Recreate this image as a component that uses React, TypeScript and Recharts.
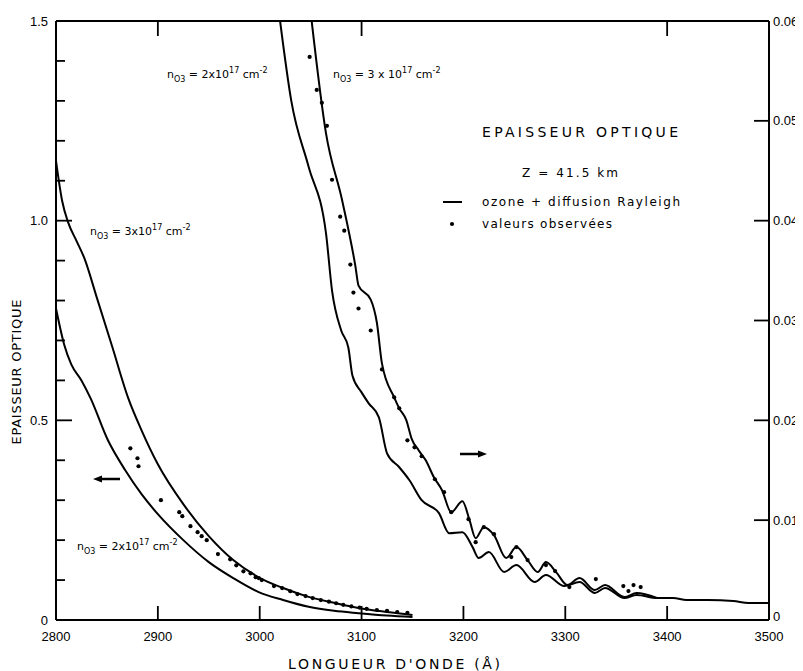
import React from 'react'
import { ComposedChart, Line, Scatter, XAxis, YAxis } from 'recharts'

// left scale: optical depth vs wavelength (Å)
const leftHighWl = [2800, 2806, 2812, 2820, 2828, 2840, 2855, 2871, 2884, 2900, 2925, 2950, 2974, 2999, 3023, 3048, 3073, 3097, 3125, 3150]
const leftHighTau = [1.15, 1.05, 0.995, 0.95, 0.905, 0.808, 0.686, 0.555, 0.475, 0.39, 0.29, 0.21, 0.15, 0.107, 0.08, 0.058, 0.043, 0.03, 0.02, 0.0125]
const leftLowWl = [2800, 2808, 2815, 2825, 2834, 2851, 2868, 2884, 2900, 2925, 2950, 2974, 2999, 3023, 3048, 3073, 3097, 3125, 3150]
const leftLowTau = [0.78, 0.69, 0.64, 0.6, 0.555, 0.45, 0.375, 0.315, 0.265, 0.2, 0.145, 0.105, 0.07, 0.05, 0.033, 0.023, 0.017, 0.011, 0.0075]
const leftObsWl = [2873, 2880, 2881, 2903, 2921, 2924, 2932, 2939, 2943, 2948, 2959, 2971, 2977, 2984, 2991, 2996, 2999, 3002, 3014, 3022, 3030, 3037, 3045, 3052, 3060, 3068, 3075, 3082, 3090, 3098, 3105, 3115, 3125, 3135, 3145]
const leftObsTau = [0.43, 0.405, 0.385, 0.3, 0.27, 0.26, 0.235, 0.22, 0.21, 0.2, 0.165, 0.152, 0.137, 0.122, 0.117, 0.107, 0.105, 0.1, 0.085, 0.08, 0.072, 0.065, 0.06, 0.055, 0.05, 0.046, 0.042, 0.038, 0.034, 0.031, 0.028, 0.025, 0.023, 0.02, 0.018]

// right scale
const rightLowWl = [3020, 3031, 3048, 3065, 3071, 3080, 3087, 3091, 3100, 3107, 3117, 3125, 3137, 3147, 3159, 3176, 3186, 3199, 3209, 3215, 3225, 3240, 3252, 3270, 3281, 3299, 3314, 3329, 3339, 3358, 3370, 3390, 3406, 3419, 3440, 3465, 3480, 3500]
const rightLowTau = [0.06, 0.052, 0.0454, 0.0388, 0.033, 0.029, 0.0273, 0.0245, 0.0228, 0.0217, 0.0203, 0.0167, 0.0153, 0.014, 0.012, 0.0107, 0.0087, 0.0088, 0.0073, 0.0062, 0.0068, 0.0048, 0.0055, 0.0038, 0.0045, 0.0034, 0.0038, 0.0027, 0.0032, 0.0022, 0.0025, 0.0022, 0.0022, 0.002, 0.002, 0.0019, 0.0017, 0.0017]
const rightHighWl = [3051, 3065, 3081, 3094, 3097, 3109, 3115, 3120, 3132, 3137, 3144, 3149, 3156, 3163, 3171, 3179, 3188, 3199, 3206, 3212, 3220, 3230, 3242, 3252, 3263, 3273, 3281, 3291, 3302, 3314, 3329, 3339, 3358, 3370, 3390]
const rightHighTau = [0.06, 0.0488, 0.042, 0.0354, 0.0335, 0.0321, 0.0298, 0.0257, 0.0223, 0.0212, 0.02, 0.0182, 0.017, 0.016, 0.0143, 0.013, 0.0108, 0.0119, 0.01, 0.0082, 0.0093, 0.0085, 0.0062, 0.0073, 0.006, 0.0048, 0.0058, 0.0048, 0.0035, 0.0042, 0.003, 0.0035, 0.0023, 0.0027, 0.0022]
const rightObsWl = [3049, 3056, 3061, 3066, 3071, 3079, 3083, 3089, 3092, 3097, 3109, 3120, 3132, 3137, 3145, 3152, 3159, 3172, 3181, 3188, 3205, 3212, 3220, 3230, 3247, 3252, 3263, 3281, 3290, 3304, 3330, 3357, 3362, 3367, 3374]
const rightObsTau = [0.0564, 0.0531, 0.0518, 0.0495, 0.0441, 0.0404, 0.039, 0.0356, 0.0328, 0.0312, 0.029, 0.0251, 0.0223, 0.0212, 0.018, 0.0173, 0.0164, 0.0141, 0.0128, 0.0108, 0.0101, 0.0078, 0.0093, 0.0086, 0.0063, 0.0073, 0.006, 0.0055, 0.0049, 0.0033, 0.0041, 0.0034, 0.0029, 0.0035, 0.0033]

const xTicks = [2800, 2900, 3000, 3100, 3200, 3300, 3400, 3500]
const topTicks = [2900, 3100, 3400]
const leftTicks = [0, 0.1, 0.2, 0.3, 0.4, 0.5, 0.6, 0.7, 0.8, 0.9, 1.0, 1.1, 1.2, 1.3, 1.4, 1.5]
const leftMajor = [0, 0.5, 1.0, 1.5]
const leftMajorLabels = ['0', '0.5', '1.0', '1.5']
const rightTicks = [0, 0.01, 0.02, 0.03, 0.04, 0.05, 0.06]
const rightLabels = ['0', '0.01', '0.02', '0.03', '0.04', '0.05', '0.06']

const pts = (xs: number[], ys: number[]) => xs.map((x, i) => ({ x, y: ys[i] }))

const INK = '#000'
const FONT = '"DejaVu Sans", Verdana, sans-serif'
const NUMFONT = '"Liberation Sans", Arial, sans-serif'

const X0 = 2800
const X1 = 3500
const L1 = 1.5
const R1 = 0.06

// chart box and plot area (same numbers as the margins / axis sizes below)
const W = 795
const H = 663
const M_TOP = 13
const Y_LEFT_W = 48
const Y_RIGHT_W = 34
const X_H = 51
const PL = Y_LEFT_W
const PR = W - Y_RIGHT_W
const PT = M_TOP
const PB = H - X_H
const sx = (v: number) => PL + ((v - X0) / (X1 - X0)) * (PR - PL)
const syL = (v: number) => PB - (v / L1) * (PB - PT)
const syR = (v: number) => PB - (v / R1) * (PB - PT)
const isMajor = (v: number) => leftMajor.some(m => Math.abs(m - v) < 1e-6)

const renderLeftTick = (p: any) => {
  const v = p.payload.value
  const k = leftMajor.findIndex(m => Math.abs(m - v) < 1e-6)
  if (k < 0) return <g />
  return (
    <text x={p.x} y={p.y} dy="0.35em" textAnchor="end" fontSize={13} fill={INK} fontFamily={NUMFONT}>
      {leftMajorLabels[k]}
    </text>
  )
}

const renderRightTick = (p: any) => {
  const v = p.payload.value
  const k = rightTicks.findIndex(m => Math.abs(m - v) < 1e-9)
  return (
    <text x={p.x} y={v === 0 ? p.y - 4 : p.y} dy="0.35em" textAnchor="start" fontSize={13} fill={INK} fontFamily={NUMFONT}>
      {rightLabels[k]}
    </text>
  )
}

const renderBottomTick = (p: any) => (
  <text x={p.x} y={p.y} dy="0.35em" textAnchor="middle" fontSize={13} fill={INK} fontFamily={NUMFONT}>
    {p.payload.value}
  </text>
)

const Dot = (p: any) => <circle cx={p.cx} cy={p.cy} r={2.1} fill={INK} />

const NLabel = ({ x, y, coef }: { x: number; y: number; coef: string }) => (
  <text x={x} y={y} fontSize={11} fill={INK} fontFamily={FONT}>
    n<tspan dy={4} fontSize={8}>O3</tspan>
    <tspan dy={-4}>{` = ${coef}10`}</tspan>
    <tspan dy={-5} fontSize={8}>17</tspan>
    <tspan dy={5}> cm</tspan>
    <tspan dy={-5} fontSize={8}>-2</tspan>
  </text>
)

const Arrow = ({ x1, x2, y }: { x1: number; x2: number; y: number }) => {
  const dir = x2 > x1 ? 1 : -1
  return (
    <g>
      <line x1={x1} x2={x2 - dir * 6} y1={y} y2={y} stroke={INK} strokeWidth={2.5} />
      <polygon points={`${x2},${y} ${x2 - dir * 9},${y - 3.5} ${x2 - dir * 9},${y + 3.5}`} fill={INK} />
    </g>
  )
}

// inner tick marks and the top of the frame
const FrameMarks = () => (
  <g stroke={INK} strokeWidth={1.8}>
    <line x1={PL} x2={PR} y1={PT} y2={PT} strokeWidth={2} />
    {xTicks.slice(1, -1).map(t => (
      <line key={`b${t}`} x1={sx(t)} x2={sx(t)} y1={PB} y2={PB - 14} />
    ))}
    {topTicks.map(t => (
      <line key={`t${t}`} x1={sx(t)} x2={sx(t)} y1={PT} y2={PT + 15} />
    ))}
    {leftTicks.slice(1, -1).map(v => (
      <line key={`l${v}`} x1={PL} x2={PL + (isMajor(v) ? 16 : 9)} y1={syL(v)} y2={syL(v)} />
    ))}
    {rightTicks.slice(1, -1).map(v => (
      <line key={`r${v}`} x1={PR - 15} x2={PR} y1={syR(v)} y2={syR(v)} />
    ))}
  </g>
)

export default function App() {
  return (
    <div style={{ position: 'relative', width: W, height: H, background: '#fff' }}>
      <style>{'body{overflow:hidden}'}</style>
      <ComposedChart width={W} height={H} margin={{ top: M_TOP, right: 0, bottom: 0, left: 0 }}>
        <XAxis
          dataKey="x"
          type="number"
          domain={[X0, X1]}
          allowDataOverflow
          ticks={xTicks}
          interval={0}
          height={X_H}
          tickSize={0}
          tickMargin={16}
          tickLine={false}
          tick={renderBottomTick}
          axisLine={{ stroke: INK, strokeWidth: 2 }}
        />
        <YAxis
          yAxisId="L"
          type="number"
          domain={[0, L1]}
          allowDataOverflow
          ticks={leftTicks}
          interval={0}
          width={Y_LEFT_W}
          tickSize={0}
          tickMargin={8}
          tickLine={false}
          tick={renderLeftTick}
          axisLine={{ stroke: INK, strokeWidth: 2 }}
        />
        <YAxis
          yAxisId="R"
          orientation="right"
          type="number"
          domain={[0, R1]}
          allowDataOverflow
          ticks={rightTicks}
          interval={0}
          width={Y_RIGHT_W}
          tickSize={0}
          tickMargin={4}
          tickLine={false}
          tick={renderRightTick}
          axisLine={{ stroke: INK, strokeWidth: 2 }}
        />
        <Line yAxisId="L" data={pts(leftHighWl, leftHighTau)} dataKey="y" type="monotone" stroke={INK} strokeWidth={2} dot={false} isAnimationActive={false} />
        <Line yAxisId="L" data={pts(leftLowWl, leftLowTau)} dataKey="y" type="monotone" stroke={INK} strokeWidth={2} dot={false} isAnimationActive={false} />
        <Line yAxisId="R" data={pts(rightHighWl, rightHighTau)} dataKey="y" type="monotone" stroke={INK} strokeWidth={2} dot={false} isAnimationActive={false} />
        <Line yAxisId="R" data={pts(rightLowWl, rightLowTau)} dataKey="y" type="monotone" stroke={INK} strokeWidth={2} dot={false} isAnimationActive={false} />
        <Scatter yAxisId="L" data={pts(leftObsWl, leftObsTau)} dataKey="y" shape={Dot} isAnimationActive={false} />
        <Scatter yAxisId="R" data={pts(rightObsWl, rightObsTau)} dataKey="y" shape={Dot} isAnimationActive={false} />
      </ComposedChart>
      <svg width={W} height={H} style={{ position: 'absolute', left: 0, top: 0, pointerEvents: 'none' }}>
        <FrameMarks />
        <text transform="translate(13,364) rotate(-90)" textAnchor="middle" fontSize={13} fill={INK} fontFamily={FONT} textLength={145} lengthAdjust="spacing">
          EPAISSEUR OPTIQUE
        </text>
        <text x={280} y={661} fontSize={14} fill={INK} fontFamily={FONT} textLength={212} lengthAdjust="spacing">
          LONGUEUR D'ONDE (Å)
        </text>
        <text x={474} y={129} fontSize={14} fill={INK} fontFamily={FONT} textLength={196} lengthAdjust="spacing">
          EPAISSEUR OPTIQUE
        </text>
        <text x={514} y={169} fontSize={12} fill={INK} fontFamily={FONT} textLength={96} lengthAdjust="spacing">
          Z = 41.5 km
        </text>
        <line x1={435} x2={454} y1={194} y2={194} stroke={INK} strokeWidth={2} />
        <text x={474} y={198} fontSize={12} fill={INK} fontFamily={FONT} textLength={198} lengthAdjust="spacing">
          ozone + diffusion  Rayleigh
        </text>
        <circle cx={444} cy={216} r={2.1} fill={INK} />
        <text x={474} y={220} fontSize={12} fill={INK} fontFamily={FONT} textLength={130} lengthAdjust="spacing">
          valeurs observées
        </text>
        <NLabel x={159} y={70} coef="2x" />
        <NLabel x={325} y={70} coef="3 x " />
        <NLabel x={82} y={227} coef="3x" />
        <NLabel x={69} y={542} coef="2x" />
        <Arrow x1={112} x2={85} y={471} />
        <Arrow x1={452} x2={479} y={446} />
      </svg>
    </div>
  )
}
